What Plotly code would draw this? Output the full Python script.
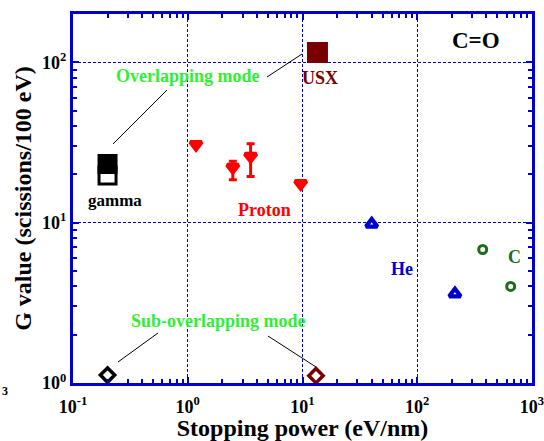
import plotly.graph_objects as go

# G value vs stopping power for the C=O bond
gamma_x = [0.2]
gamma_y_filled = [23.2]
gamma_y_open = [19.7]

usx_x = [13.5]
usx_y = [115]

proton_x = [1.18, 2.47, 3.53, 9.64]
proton_y = [30.7, 22.1, 25.9, 17.5]
proton_err_plus = [0, 2.0, 5.1, 0]
proton_err_minus = [0, 3.6, 6.5, 0]

he_x = [40.1, 213]
he_y = [9.8, 3.6]

c_x = [372, 652]
c_y = [6.8, 4.0]

sub_x = [0.2, 13.1]
sub_y = [1.12, 1.11]

x_ticks = [0.1, 1, 10, 100, 1000]
x_ticktext = ["10<sup>-1</sup>", "10<sup>0</sup>", "10<sup>1</sup>", "10<sup>2</sup>", "10<sup>3</sup>"]
y_ticks = [1, 10, 100]
y_ticktext = ["10<sup>0</sup>", "10<sup>1</sup>", "10<sup>2</sup>"]

BLUE = "#0000cc"
RED = "#ff0000"
MAROON = "#770000"
DGREEN = "#1d6b1d"
LGREEN = "#33ee33"
FONT = "Times New Roman, Liberation Serif, Times, serif"

W, H = 544, 441
L, R, T, B = 73, 12, 14, 58
PW, PH = W - L - R, H - T - B


def px(x):
    return (x - L) / PW


def py(y):
    return (H - B - y) / PH


def minor_vals(lo, hi):
    out = []
    for e in range(lo, hi):
        for m in range(2, 10):
            out.append(m * 10 ** e)
    return out


def bold(items):
    return [f"<b>{t}</b>" for t in items]


fig = go.Figure()

fig.add_trace(go.Scatter(
    x=gamma_x, y=gamma_y_open, mode="markers",
    marker=dict(symbol="square", size=17, color="white",
                line=dict(color="black", width=3)),
))
fig.add_trace(go.Scatter(
    x=gamma_x, y=gamma_y_filled, mode="markers",
    marker=dict(symbol="square", size=18, color="black",
                line=dict(color="black", width=2)),
))
fig.add_trace(go.Scatter(
    x=usx_x, y=usx_y, mode="markers",
    marker=dict(symbol="square", size=19, color=MAROON,
                line=dict(color=MAROON, width=2)),
))
fig.add_trace(go.Scatter(
    x=proton_x, y=proton_y, mode="markers",
    marker=dict(symbol="triangle-down-open", size=10, color=RED,
                line=dict(color=RED, width=4.2)),
    error_y=dict(type="data", symmetric=False, array=proton_err_plus,
                 arrayminus=proton_err_minus, color=RED, thickness=3, width=4),
))
fig.add_trace(go.Scatter(
    x=he_x, y=he_y, mode="markers",
    marker=dict(symbol="triangle-up-open", size=10, color=BLUE,
                line=dict(color=BLUE, width=4.2)),
))
fig.add_trace(go.Scatter(
    x=c_x, y=c_y, mode="markers",
    marker=dict(symbol="circle-open", size=8, color=DGREEN,
                line=dict(color=DGREEN, width=3)),
))
fig.add_trace(go.Scatter(
    x=sub_x, y=sub_y, mode="markers",
    marker=dict(symbol="diamond-open", size=11, color=["black", MAROON],
                line=dict(color=["black", MAROON], width=3.5)),
))

axis_common = dict(
    type="log", showline=True, linecolor=BLUE, linewidth=3, mirror="ticks",
    ticks="inside", ticklen=6, tickwidth=1.5, tickcolor=BLUE,
    showgrid=True, gridcolor=BLUE, gridwidth=1.2, griddash="3px,2px",
    zeroline=False, tickmode="array", automargin=False,
    ticklabeloverflow="allow",
    tickfont=dict(family=FONT, size=18, color="black"),
    title_font=dict(family=FONT, size=24, color="black"),
)

fig.update_xaxes(
    **axis_common, range=[-1, 3], tickvals=x_ticks, ticktext=bold(x_ticktext),
    title_text="<b>Stopping power (eV/nm)</b>", title_standoff=5,
    ticklabelstandoff=5,
    minor=dict(tickmode="array", tickvals=minor_vals(-1, 3), ticks="inside",
               ticklen=4, tickwidth=1.5, tickcolor=BLUE, showgrid=False),
)
fig.update_yaxes(
    **axis_common, range=[0, 2.301], tickvals=y_ticks, ticktext=bold(y_ticktext),
    title_text="<b>G value (scissions/100 eV)</b>", title_standoff=4,
    minor=dict(tickmode="array", tickvals=minor_vals(0, 3), ticks="inside",
               ticklen=4, tickwidth=1.5, tickcolor=BLUE, showgrid=False),
)


def label(text, x, y, color, size=17):
    fig.add_annotation(text=f"<b>{text}</b>", x=px(x), y=py(y), xref="paper",
                       yref="paper", showarrow=False, xanchor="center",
                       yanchor="middle",
                       font=dict(family=FONT, size=size, color=color))


label("C=O", 476, 40, "black", 23)
label("Overlapping mode", 188, 76, LGREEN, 18)
label("Sub-overlapping mode", 218, 321, LGREEN, 18)
label("gamma", 115, 200, "black", 17)
label("USX", 320, 78, MAROON, 18)
label("Proton", 264, 210, RED, 18)
label("He", 402, 269, BLUE, 18)
label("C", 514, 257, DGREEN, 18)

# leader lines from the mode labels to the marks
for x0, y0, x1, y1 in [(113, 144, 167, 90), (267, 77, 302, 54),
                       (118, 362, 158, 333), (268, 336, 316, 367)]:
    fig.add_shape(type="line", xref="paper", yref="paper",
                  x0=px(x0), y0=py(y0), x1=px(x1), y1=py(y1),
                  line=dict(color="black", width=1))

fig.add_annotation(text="<b>3</b>", x=px(0), y=py(391), xref="paper",
                   yref="paper", showarrow=False, xanchor="left",
                   yanchor="middle", font=dict(family=FONT, size=12,
                                               color="black"))

fig.update_layout(
    width=W, height=H, margin=dict(l=L, r=R, t=T, b=B),
    paper_bgcolor="white", plot_bgcolor="white", showlegend=False,
)

fig.write_html("out.html")
